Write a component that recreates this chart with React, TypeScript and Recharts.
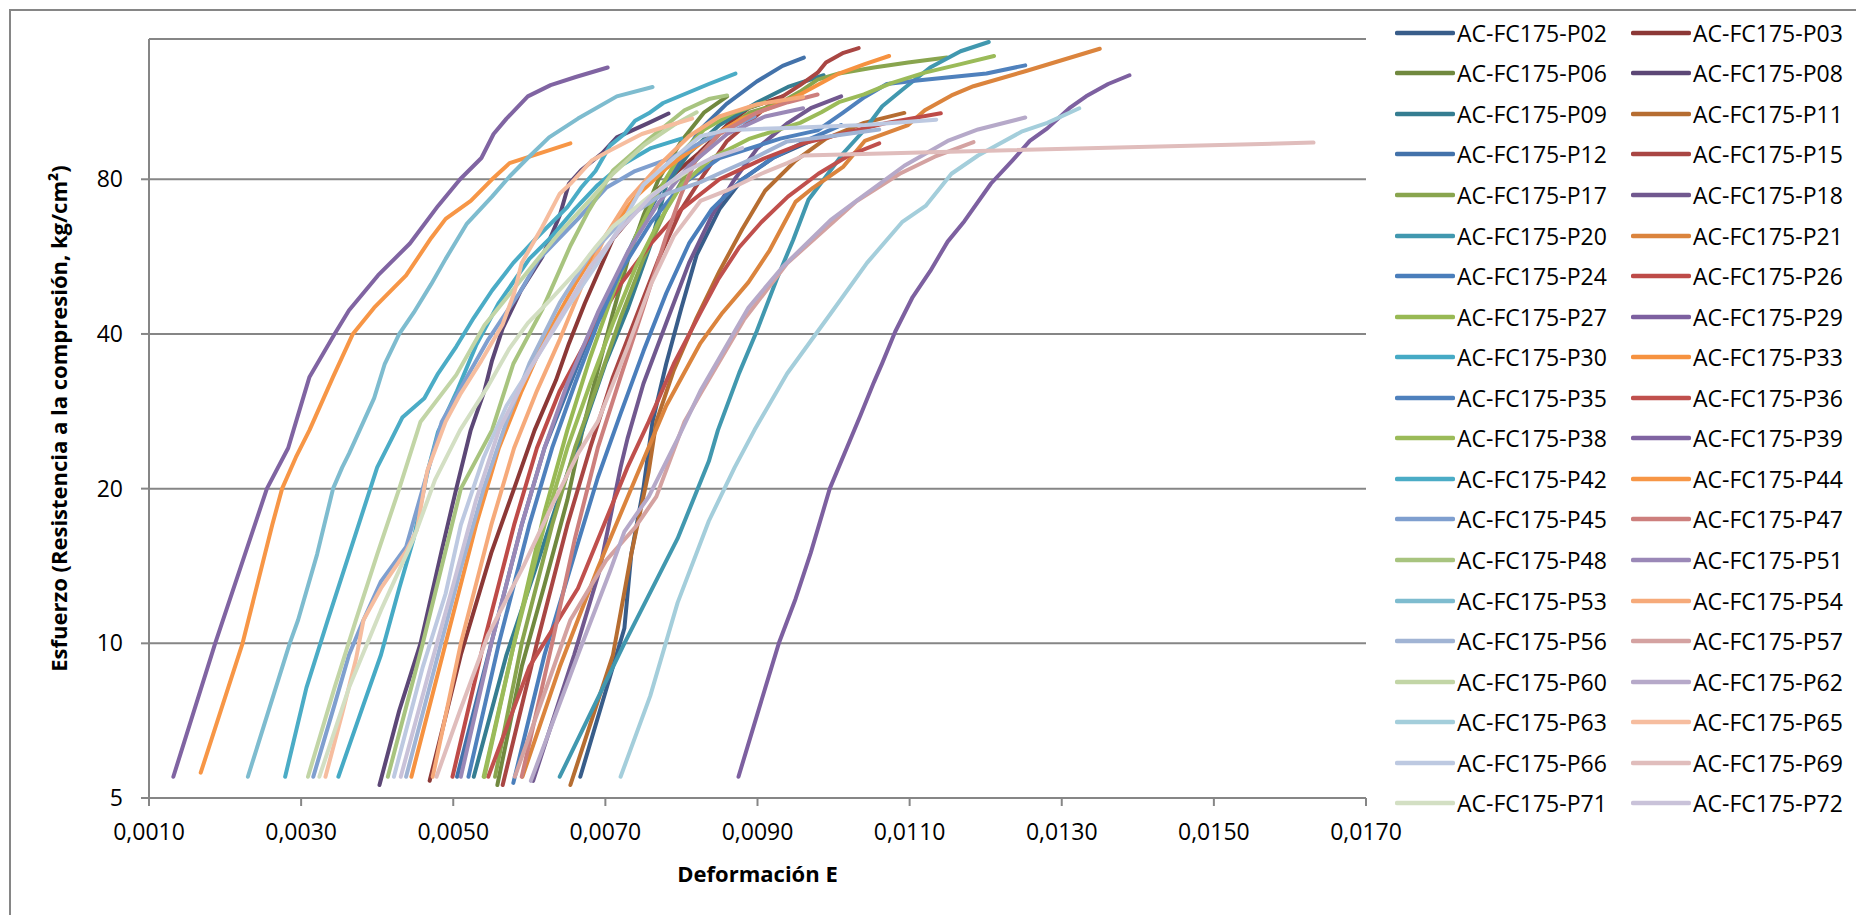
import React from 'react';
import { LineChart, Line, XAxis, YAxis, CartesianGrid, Legend, Label } from 'recharts';

type Pt = [number, number];

const P02: Pt[] = [[0.00667,5.5],[0.00725,10.7],[0.00734,14.9],[0.0075,20],[0.00762,27],[0.0078,35],[0.008,45],[0.0082,57],[0.0085,70],[0.0088,80],[0.0092,88],[0.0097,95]];
const P03: Pt[] = [[0.00469,5.4],[0.0051,9.5],[0.0055,15],[0.0058,20],[0.00607,26],[0.00635,32.5],[0.00652,38.3],[0.00673,45.9],[0.0071,61.3],[0.00748,71.5],[0.00786,80.8],[0.00823,90],[0.0086,102],[0.00888,110],[0.00933,116]];
const P06: Pt[] = [[0.00558,5.3],[0.0059,9],[0.0062,13],[0.0065,19],[0.0067,26],[0.0069,34],[0.0071,44],[0.0073,56],[0.0075,68],[0.0077,80],[0.008,95],[0.0083,108],[0.0086,116]];
const P08: Pt[] = [[0.00403,5.3],[0.00429,7.4],[0.00457,10],[0.00485,15.2],[0.00504,20],[0.00523,26],[0.00541,31],[0.00551,35.5],[0.00565,41],[0.00589,48.6],[0.00617,56.5],[0.0064,68],[0.00652,78.4],[0.00668,83.3],[0.00696,90],[0.00715,96.5],[0.00757,103],[0.00783,107.4]];
const P09: Pt[] = [[0.00527,5.5],[0.0057,9.5],[0.00607,13.8],[0.0064,19.4],[0.0067,26],[0.007,35],[0.0073,45],[0.0076,60],[0.0078,78],[0.0081,90],[0.0085,102],[0.009,113],[0.0094,121],[0.00987,127.5]];
const P11: Pt[] = [[0.00654,5.3],[0.0071,9.5],[0.00734,14.9],[0.00757,21.6],[0.00767,27],[0.0079,34],[0.0082,43],[0.0085,53],[0.0088,64],[0.0091,76],[0.0095,87],[0.0099,96],[0.0104,103],[0.01093,107.7]];
const P12: Pt[] = [[0.00505,5.5],[0.0055,10],[0.0059,17],[0.0062,24],[0.0065,31],[0.0068,40],[0.0071,50],[0.0074,62],[0.0077,75],[0.008,88],[0.00825,100],[0.00859,112],[0.00899,124],[0.00933,133],[0.00961,138]];
const P15: Pt[] = [[0.00565,5.3],[0.0061,10],[0.0065,17],[0.0068,24],[0.0071,33],[0.0074,43],[0.0077,56],[0.008,70],[0.0083,82],[0.0086,95],[0.0091,110],[0.00933,116],[0.00956,122],[0.00979,129],[0.0099,135],[0.01013,141],[0.01033,144]];
const P17: Pt[] = [[0.00555,5.5],[0.0059,10],[0.0063,17],[0.0066,24],[0.0069,32],[0.0072,43],[0.0075,56],[0.0078,70],[0.0081,84],[0.0085,98],[0.0089,108],[0.00927,112],[0.00956,118.5],[0.00979,125],[0.01007,128.5],[0.01053,132],[0.01098,135],[0.01149,138]];
const P18: Pt[] = [[0.00605,5.4],[0.00659,9.5],[0.00692,13.8],[0.0072,22],[0.00729,25],[0.0075,32],[0.0078,42],[0.0081,55],[0.0084,68],[0.0087,80],[0.009,92],[0.0094,103],[0.0097,110],[0.0101,116]];
const P20: Pt[] = [[0.0064,5.5],[0.00725,10],[0.00795,16],[0.00836,22.6],[0.00848,26],[0.00876,33.6],[0.00899,40.5],[0.00925,51],[0.00947,61],[0.00967,73],[0.0099,81],[0.01013,90],[0.01041,100],[0.01064,111],[0.01092,120],[0.01127,132],[0.01167,142],[0.01204,148]];
const P21: Pt[] = [[0.00591,5.5],[0.0064,9],[0.0069,14],[0.0074,21],[0.0078,29],[0.00825,38.4],[0.00854,44],[0.00888,50.4],[0.00916,58.2],[0.00939,67.4],[0.0095,72.3],[0.00973,77],[0.01013,84.7],[0.01041,95],[0.01098,102],[0.0112,109],[0.01155,116.5],[0.01184,121.4],[0.01252,129.8],[0.0135,143.6]];
const P24: Pt[] = [[0.00579,5.35],[0.0062,9.5],[0.0066,15],[0.0069,21],[0.0072,28],[0.0075,37],[0.0078,48],[0.0081,60],[0.0084,70],[0.0088,80],[0.0092,88],[0.0097,96],[0.0101,102]];
const P26: Pt[] = [[0.00499,5.5],[0.0054,10],[0.0058,17],[0.0061,24],[0.0064,31],[0.0068,40],[0.0072,50],[0.0076,60],[0.008,70],[0.0085,80],[0.0091,88],[0.0096,94],[0.0101,98],[0.0107,103],[0.01141,107.5]];
const P27: Pt[] = [[0.0054,5.5],[0.0058,10],[0.0062,18],[0.0065,26],[0.0068,36],[0.0071,48],[0.0074,62],[0.0077,76],[0.008,90],[0.0083,100],[0.0087,108],[0.0091,113]];
const P29: Pt[] = [[0.00875,5.5],[0.009,7.3],[0.00928,10],[0.0095,12.2],[0.0097,15],[0.00995,20],[0.01035,27.7],[0.01053,32.2],[0.01064,35.1],[0.01081,40.4],[0.01104,47.2],[0.01127,53],[0.0115,60.5],[0.01172,66.3],[0.01207,78.5],[0.01235,87],[0.01258,95],[0.01281,100.5],[0.0131,110],[0.01332,116],[0.01361,122.6],[0.01389,127.5]];
const P30: Pt[] = [[0.00349,5.5],[0.00382,7.6],[0.00405,9.5],[0.00429,12.8],[0.00448,16],[0.00466,21.5],[0.0048,25.8],[0.00505,31],[0.0053,38],[0.0056,46],[0.006,56],[0.0063,62],[0.0066,70],[0.0069,78],[0.0072,85],[0.0076,92],[0.008,96]];
const P33: Pt[] = [[0.00445,5.5],[0.0049,10],[0.0053,17],[0.0056,24],[0.0059,31],[0.0062,39],[0.0066,50],[0.007,62],[0.0074,74],[0.0078,84],[0.0083,95],[0.0088,105],[0.00922,111],[0.00956,117],[0.00979,122],[0.01007,128.5],[0.01041,134],[0.01073,139]];
const P35: Pt[] = [[0.0052,5.5],[0.0056,10],[0.006,17],[0.0063,24],[0.0066,32],[0.0069,42],[0.0072,53],[0.0076,66],[0.008,78],[0.0085,88],[0.0093,96],[0.00979,99.6],[0.01013,108],[0.01041,115.7],[0.0107,122.6],[0.0111,124.6],[0.01201,128.5],[0.01252,133.3]];
const P36: Pt[] = [[0.00546,5.5],[0.006,9],[0.00664,12.8],[0.00729,22],[0.00757,27],[0.0079,35],[0.00825,44],[0.00848,51],[0.00876,59],[0.00905,66],[0.0094,74],[0.0098,82],[0.0102,89],[0.0106,94]];
const P38: Pt[] = [[0.00541,5.5],[0.0058,10],[0.0062,17],[0.0065,24],[0.0068,32],[0.0071,42],[0.0074,54],[0.0077,66],[0.008,78],[0.0084,88],[0.0089,96],[0.00956,103],[0.00984,108],[0.01007,113],[0.0104,117],[0.01075,123],[0.0112,129],[0.01167,134],[0.01211,139]];
const P39: Pt[] = [[0.00132,5.5],[0.00187,10],[0.00255,20],[0.00283,24],[0.0029,26],[0.00311,33],[0.00344,40],[0.00363,44.5],[0.00401,52],[0.00443,60],[0.0048,71],[0.00509,80],[0.00537,88],[0.00553,98],[0.0057,105],[0.00598,116],[0.00628,122],[0.00661,126.5],[0.00703,132]];
const P42: Pt[] = [[0.00279,5.5],[0.00307,8.2],[0.00335,11.1],[0.00363,14.9],[0.004,22],[0.00419,25],[0.00433,27.5],[0.00462,30],[0.0048,33.5],[0.00504,37.8],[0.00527,43],[0.00551,48.6],[0.00579,55],[0.00607,61],[0.0065,70.6],[0.00668,77],[0.00687,83],[0.00706,93],[0.00725,98],[0.00739,104],[0.00757,107.5],[0.00776,112.6],[0.00836,122.6],[0.00871,128.5]];
const P44: Pt[] = [[0.00168,5.6],[0.00223,10],[0.00262,17],[0.00275,20],[0.00293,23],[0.00311,26],[0.00342,33],[0.00368,40],[0.00396,45],[0.00438,52],[0.00471,61.5],[0.0049,67],[0.00523,72.6],[0.00551,80],[0.00574,86],[0.00654,94]];
const P45: Pt[] = [[0.00316,5.5],[0.00344,7.6],[0.00363,9.5],[0.00382,11.1],[0.00405,13.2],[0.00438,15.4],[0.00466,21.5],[0.00485,27],[0.00513,32],[0.00546,39],[0.00589,48.6],[0.00612,55.8],[0.00664,67],[0.00701,77],[0.00739,83],[0.00786,88],[0.00836,96],[0.00896,106]];
const P47: Pt[] = [[0.0059,5.5],[0.0063,10],[0.0066,16],[0.0069,24],[0.0072,33],[0.0075,45],[0.0078,62],[0.008,75],[0.0082,88],[0.0085,98],[0.009,108],[0.0094,113],[0.00979,117]];
const P48: Pt[] = [[0.00414,5.5],[0.0046,10],[0.0051,20],[0.00551,26],[0.00579,35],[0.00617,44.6],[0.00654,59.4],[0.00678,69.5],[0.0071,83.2],[0.00757,95.7],[0.00804,109],[0.00836,114.6],[0.0086,116.5]];
const P51: Pt[] = [[0.0051,5.5],[0.0055,10],[0.0059,17],[0.0062,24],[0.0065,32],[0.0069,44],[0.0073,58],[0.0077,72],[0.0081,85],[0.0086,98],[0.0091,106],[0.0096,110]];
const P53: Pt[] = [[0.0023,5.5],[0.00285,10],[0.00296,11.1],[0.00321,14.9],[0.00342,20],[0.00354,22],[0.00363,23.4],[0.00377,26],[0.00396,30],[0.0041,35],[0.00429,40],[0.00448,44],[0.00471,50],[0.0049,56],[0.00518,65.6],[0.00551,74],[0.00574,81],[0.00598,88],[0.00626,96.5],[0.00664,105],[0.00715,116],[0.00762,121]];
const P54: Pt[] = [[0.00473,5.5],[0.0051,10],[0.0055,17],[0.0058,24],[0.0061,31],[0.0064,39],[0.0067,50],[0.007,62],[0.0073,73],[0.0077,85],[0.0081,97],[0.0085,106],[0.009,112],[0.0096,115.7]];
const P56: Pt[] = [[0.00438,5.5],[0.0048,9.5],[0.0051,14],[0.0054,20],[0.0057,27],[0.006,35],[0.0064,46],[0.0068,57],[0.0072,66],[0.0077,74],[0.00825,79],[0.00859,83.3],[0.00899,88.5],[0.00939,94.8],[0.00996,97],[0.0106,100]];
const P57: Pt[] = [[0.00581,5.5],[0.00654,11.1],[0.00701,14.5],[0.00739,16.8],[0.00767,19.3],[0.00804,27],[0.00825,30.6],[0.00882,42.6],[0.00939,54.9],[0.0103,72.5],[0.01087,82],[0.01133,88.5],[0.01184,94.5]];
const P60: Pt[] = [[0.00309,5.5],[0.00344,8.2],[0.00372,11.1],[0.004,14.9],[0.00429,20],[0.00457,27],[0.00504,33.3],[0.00541,41.6],[0.0057,47],[0.00607,55],[0.0064,63],[0.0068,73],[0.0071,82],[0.0075,93],[0.0079,102],[0.0082,108]];
const P62: Pt[] = [[0.00602,5.4],[0.00664,9.5],[0.00706,13.8],[0.00725,16.5],[0.00757,19.3],[0.00795,25],[0.00825,31],[0.00888,45],[0.00933,54],[0.00996,66.6],[0.0103,72.6],[0.01093,85],[0.0115,95],[0.0119,100],[0.01252,105.5]];
const P63: Pt[] = [[0.0072,5.5],[0.00759,7.9],[0.00795,12],[0.00836,17.3],[0.0087,22],[0.00896,26],[0.00939,33.5],[0.00996,43.8],[0.01044,55],[0.0109,66],[0.01121,71],[0.01155,82],[0.0119,89],[0.01247,99],[0.01281,103],[0.01323,110]];
const P65: Pt[] = [[0.00332,5.5],[0.00354,7.3],[0.00372,9.3],[0.00382,11.1],[0.00405,12.8],[0.00438,15.1],[0.00452,16.6],[0.00466,21.7],[0.0049,27],[0.00509,30.5],[0.00537,35.5],[0.00565,41.8],[0.0058,48],[0.0059,55],[0.00617,64.6],[0.0064,75],[0.00654,78.4],[0.00682,87],[0.00706,91],[0.00748,98],[0.00776,101],[0.00814,105]];
const P66: Pt[] = [[0.00422,5.5],[0.0046,9],[0.0049,12.5],[0.0051,17],[0.0054,23],[0.0057,29],[0.0061,36],[0.0065,45],[0.0069,55],[0.0072,65],[0.0075,78],[0.0079,88],[0.00825,97],[0.00859,99.7],[0.00939,100.7],[0.01041,102],[0.01135,104.5]];
const P69: Pt[] = [[0.00478,5.5],[0.00509,7.4],[0.00546,10.4],[0.00593,14.2],[0.00631,18.7],[0.00664,23.4],[0.0069,27],[0.0073,38],[0.0076,50],[0.0079,62],[0.00825,72.6],[0.00859,76],[0.00905,82],[0.00939,86],[0.00961,89],[0.01631,94.3]];
const P71: Pt[] = [[0.00324,5.5],[0.00363,8.2],[0.00405,11.6],[0.00448,16],[0.00476,20.8],[0.00509,26],[0.00546,31.7],[0.00574,37.5],[0.00598,42],[0.00631,47.2],[0.00664,53.3],[0.00687,59],[0.0071,64.7],[0.00757,74],[0.00807,82.7]];
const P72: Pt[] = [[0.00431,5.5],[0.0047,9],[0.005,13],[0.0053,19],[0.0056,26],[0.006,34],[0.0064,43],[0.0068,54],[0.0072,64],[0.0076,74],[0.008,82],[0.0084,88],[0.0088,92]];

const SERIES_NAMES = [
  'AC-FC175-P02','AC-FC175-P03','AC-FC175-P06','AC-FC175-P08','AC-FC175-P09','AC-FC175-P11',
  'AC-FC175-P12','AC-FC175-P15','AC-FC175-P17','AC-FC175-P18','AC-FC175-P20','AC-FC175-P21',
  'AC-FC175-P24','AC-FC175-P26','AC-FC175-P27','AC-FC175-P29','AC-FC175-P30','AC-FC175-P33',
  'AC-FC175-P35','AC-FC175-P36','AC-FC175-P38','AC-FC175-P39','AC-FC175-P42','AC-FC175-P44',
  'AC-FC175-P45','AC-FC175-P47','AC-FC175-P48','AC-FC175-P51','AC-FC175-P53','AC-FC175-P54',
  'AC-FC175-P56','AC-FC175-P57','AC-FC175-P60','AC-FC175-P62','AC-FC175-P63','AC-FC175-P65',
  'AC-FC175-P66','AC-FC175-P69','AC-FC175-P71','AC-FC175-P72',
];
const SERIES_DATA: Pt[][] = [
  P02,P03,P06,P08,P09,P11,P12,P15,P17,P18,P20,P21,P24,P26,P27,P29,P30,P33,P35,P36,
  P38,P39,P42,P44,P45,P47,P48,P51,P53,P54,P56,P57,P60,P62,P63,P65,P66,P69,P71,P72,
];
const SERIES_COLORS = [
  '#385D8A','#8C3836','#71893F','#5C4776','#357D91','#B66D31',
  '#4372AA','#A94643','#89A54E','#71588F','#4198AF','#DB843D',
  '#4A7EBB','#BE4B48','#98B954','#7D60A0','#46AAC5','#F69240',
  '#4F81BD','#C0504D','#9BBB59','#8064A2','#4BACC6','#F79646',
  '#7F9FCF','#CD7F7D','#A8C47F','#9A88B7','#7EBCCF','#F6AA7A',
  '#A1B4D4','#D4A2A1','#C2D5A6','#B6A9C9','#A4CEDB','#F6BD9F',
  '#BDC9E1','#E0BDBC','#D3DFC3','#C9C2D9',
];

const X_TICKS = [0.001, 0.003, 0.005, 0.007, 0.009, 0.011, 0.013, 0.015, 0.017];
const Y_TICKS = [5, 10, 20, 40, 80];
const X_TITLE = 'Deformación E';
const Y_TITLE = 'Esfuerzo (Resistencia a la compresión, kg/cm²)';

const FONT = "'Open Sans', 'Noto Sans', sans-serif";
const AXIS_GRAY = '#868686';

const renderLegend = () => (
  <div style={{ position: 'relative', width: 466, height: 830, fontFamily: FONT }}>
    {SERIES_NAMES.map((name, i) => {
      const row = Math.floor(i / 2);
      const col = i % 2;
      const cy = 32.7 + row * 40.56;
      const lx = col === 0 ? 5 : 241;
      return (
        <div
          key={name}
          style={{
            position: 'absolute', left: lx, top: cy - 16, height: 32,
            display: 'flex', alignItems: 'center', whiteSpace: 'nowrap',
          }}
        >
          <svg width={60} height={10} style={{ display: 'block' }}>
            <line x1={2} y1={5} x2={58} y2={5} stroke={SERIES_COLORS[i]} strokeWidth={4.5} strokeLinecap="round" />
          </svg>
          <span style={{ fontSize: 23, color: '#000', marginLeft: 2, lineHeight: '32px' }}>{name}</span>
        </div>
      );
    })}
  </div>
);

const fmtX = (v: number) => v.toFixed(4).replace('.', ',');

export default function App() {
  return (
    <div style={{ position: 'absolute', left: 0, top: 0, width: 1856, height: 915, overflow: 'hidden', background: '#fff', fontFamily: FONT }}>
      <div style={{ position: 'absolute', left: 9, top: 9, width: 2000, height: 1000, borderLeft: `2px solid ${AXIS_GRAY}`, borderTop: `2px solid ${AXIS_GRAY}` }} />
      <LineChart width={1856} height={915} margin={{ top: 39, right: 490, bottom: 0, left: 0 }}>
        <CartesianGrid horizontal vertical={false} stroke={AXIS_GRAY} strokeWidth={2} />
        <XAxis
          type="number"
          dataKey="x"
          domain={[0.001, 0.017]}
          ticks={X_TICKS}
          allowDataOverflow
          tickFormatter={fmtX}
          height={117}
          axisLine={{ stroke: AXIS_GRAY, strokeWidth: 2 }}
          tickLine={{ stroke: AXIS_GRAY, strokeWidth: 2 }}
          tickSize={8}
          tickMargin={18}
          tick={{ fill: '#000', fontSize: 23, fontFamily: FONT }}
        >
          <Label value={X_TITLE} position="insideBottom" offset={33} style={{ fontWeight: 700, fontSize: 22, fill: '#000', fontFamily: FONT }} />
        </XAxis>
        <YAxis
          type="number"
          scale="log"
          domain={[5, 150]}
          ticks={Y_TICKS}
          allowDataOverflow
          width={149}
          axisLine={{ stroke: AXIS_GRAY, strokeWidth: 2 }}
          tickLine={{ stroke: AXIS_GRAY, strokeWidth: 2 }}
          tickSize={8}
          tickMargin={18}
          tick={{ fill: '#000', fontSize: 23, fontFamily: FONT }}
        >
          <Label value={Y_TITLE} angle={-90} position="insideLeft" offset={59} style={{ textAnchor: 'middle', fontWeight: 700, fontSize: 22, fill: '#000', fontFamily: FONT }} />
        </YAxis>
        <Legend layout="horizontal" verticalAlign="middle" align="center" wrapperStyle={{ left: 1390, top: 0, width: 466, height: 830 }} content={renderLegend} />
        {SERIES_DATA.map((pts, i) => (
          <Line
            key={SERIES_NAMES[i]}
            name={SERIES_NAMES[i]}
            data={pts.map(([x, y]) => ({ x, y }))}
            dataKey="y"
            type="linear"
            stroke={SERIES_COLORS[i]}
            strokeWidth={4}
            strokeLinecap="round"
            strokeLinejoin="round"
            dot={false}
            activeDot={false}
            isAnimationActive={false}
          />
        ))}
      </LineChart>
    </div>
  );
}
